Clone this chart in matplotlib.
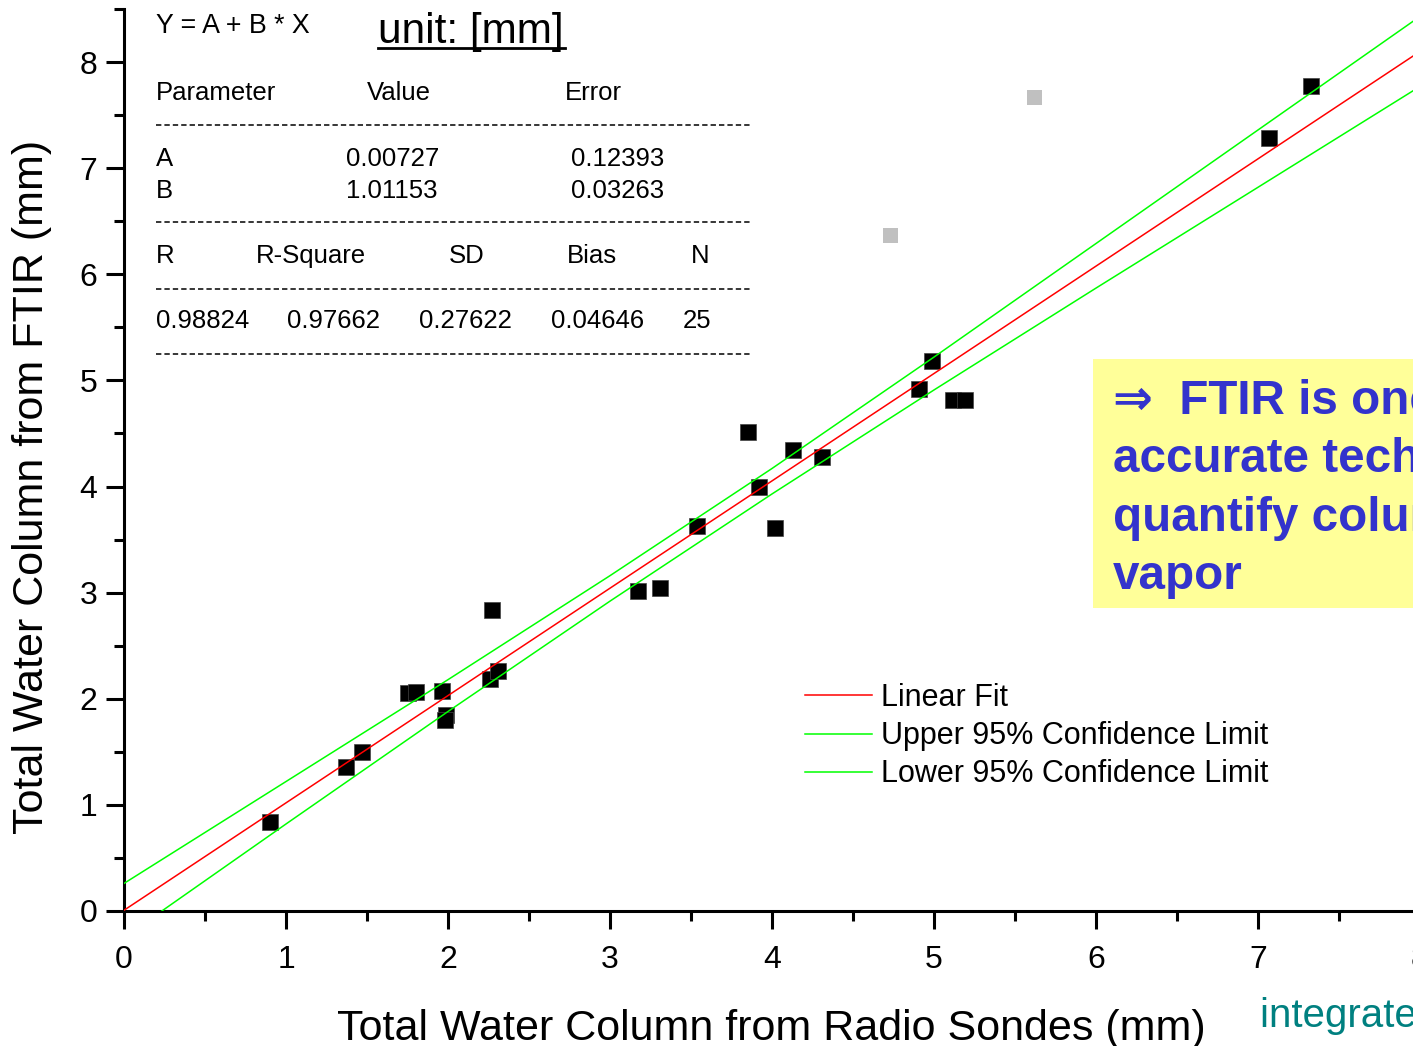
import numpy as np
import matplotlib
matplotlib.use("Agg")
import matplotlib.pyplot as plt
from matplotlib.lines import Line2D
from matplotlib.patches import Rectangle
from matplotlib.ticker import MultipleLocator

plt.rcParams["font.family"] = ["Liberation Sans", "DejaVu Sans"]

# radiosonde vs FTIR total water column (mm)
sonde = [0.90, 1.37, 1.47, 1.75, 1.80, 1.96, 1.99, 1.98, 2.27, 2.26, 2.31,
         3.17, 3.31, 3.54, 3.85, 3.92, 4.02, 4.13, 4.31, 4.91, 4.99, 5.12,
         5.19, 7.07, 7.33]
ftir = [0.84, 1.36, 1.50, 2.05, 2.06, 2.07, 1.85, 1.80, 2.84, 2.19, 2.26,
        3.02, 3.04, 3.63, 4.51, 4.00, 3.61, 4.34, 4.28, 4.92, 5.18, 4.82,
        4.82, 7.28, 7.77]
# excluded points (grey)
sonde_out = [4.73, 5.62]
ftir_out = [6.37, 7.67]

# fit line and 95% confidence limits read at integer x
band_x = [0, 1, 2, 3, 4, 5, 6, 7, 8]
fit_y = [0.007, 1.019, 2.030, 3.042, 4.053, 5.065, 6.077, 7.088, 8.100]
upper_y = [0.26, 1.22, 2.18, 3.16, 4.17, 5.22, 6.29, 7.36, 8.43]
lower_y = [-0.25, 0.82, 1.88, 2.92, 3.93, 4.91, 5.87, 6.82, 7.77]

table_head = ["Parameter", "Value", "Error"]
table_rows = [["A", "0.00727", "0.12393"], ["B", "1.01153", "0.03263"]]
stat_head = ["R", "R-Square", "SD", "Bias", "N"]
stat_vals = ["0.98824", "0.97662", "0.27622", "0.04646", "25"]

W, H = 1413, 1046


def fx(px):
    return px / W


def fy(py):
    return 1 - py / H


fig = plt.figure(figsize=(W / 100, H / 100), dpi=100)
ax = fig.add_axes([fx(124), fy(911), 8.5 * 162 / W, (911 - 9) / H])

ax.plot(sonde_out, ftir_out, "s", color="#c0c0c0", ms=10.8, mew=0, zorder=2)
ax.plot(sonde, ftir, "s", color="black", ms=11.8, mew=0.5, mec="#444444", zorder=2)
l1, = ax.plot(band_x, fit_y, color="#ff0000", lw=1.1, zorder=3)
l2, = ax.plot(band_x, upper_y, color="#00ff00", lw=1.1, zorder=3)
l3, = ax.plot(band_x, lower_y, color="#00ff00", lw=1.1, zorder=3)

ax.set_xlim(0, 8.5)
ax.set_ylim(0, 8.5)
ax.xaxis.set_major_locator(MultipleLocator(1))
ax.xaxis.set_minor_locator(MultipleLocator(0.5))
ax.yaxis.set_major_locator(MultipleLocator(1))
ax.yaxis.set_minor_locator(MultipleLocator(0.5))
for s in ["top", "right"]:
    ax.spines[s].set_visible(False)
for s in ["left", "bottom"]:
    ax.spines[s].set_linewidth(2.2)
ax.tick_params(which="major", direction="out", length=13, width=2.2,
               labelsize=23)
ax.tick_params(which="minor", direction="out", length=7, width=2.2)
ax.tick_params(axis="x", pad=11.5)
ax.tick_params(axis="y", pad=6)

fig.text(fx(771), fy(1040), "Total Water Column from Radio Sondes (mm)",
         fontsize=31, ha="center", va="baseline")
fig.text(fx(32), fy(487), "Total Water Column from FTIR (mm)", fontsize=31,
         rotation=90, ha="center", va="center")

ax.legend([l1, l2, l3], ["Linear Fit", "Upper 95% Confidence Limit",
                         "Lower 95% Confidence Limit"],
          loc="upper left", bbox_to_anchor=(fx(805), fy(683)),
          bbox_transform=fig.transFigure, frameon=False, fontsize=22,
          handlelength=2.2, handletextpad=0.3, labelspacing=0.27,
          borderpad=0, borderaxespad=0)

# fit table
fig.text(fx(156), fy(33), "Y = A + B * X", fontsize=19.3, va="baseline")
fig.text(fx(378), fy(43), "unit: [mm]", fontsize=30.5, va="baseline")
fig.add_artist(Line2D([fx(378), fx(565)], [fy(48), fy(48)], color="black", lw=2))
for txt, xp in zip(table_head, [156, 367, 565]):
    fig.text(fx(xp), fy(100), txt, fontsize=18.5, va="baseline")
for row, yp in zip(table_rows, [166, 198]):
    for txt, xp in zip(row, [156, 346, 571]):
        fig.text(fx(xp), fy(yp), txt, fontsize=18.5, va="baseline")
for txt, xp in zip(stat_head, [156, 256, 449, 567, 691]):
    fig.text(fx(xp), fy(263), txt, fontsize=18.5, va="baseline")
for txt, xp in zip(stat_vals, [156, 287, 419, 551, 683]):
    fig.text(fx(xp), fy(328), txt, fontsize=18.5, va="baseline")
for yp in [125, 222, 289, 354]:
    fig.add_artist(Line2D([fx(156), fx(750)], [fy(yp), fy(yp)], color="black",
                          lw=1.1, linestyle=(0, (3.5, 2))))

# conclusion box
fig.add_artist(Rectangle((fx(1093), fy(608)), fx(400), (608 - 359) / H,
                         transform=fig.transFigure, facecolor="#ffff99",
                         edgecolor="none", zorder=1))
fig.text(fx(1113), fy(589),
         "\u21d2  FTIR is one of the most\naccurate techniques to\n"
         "quantify column water\nvapor",
         fontsize=34.3, fontweight="bold", color="#3333cc", va="baseline",
         linespacing=1.385, zorder=2)
fig.text(fx(1260), fy(1027), "integrated water vapor", fontsize=29,
         color="#008080", va="baseline")

fig.savefig("out.png", dpi=100)
